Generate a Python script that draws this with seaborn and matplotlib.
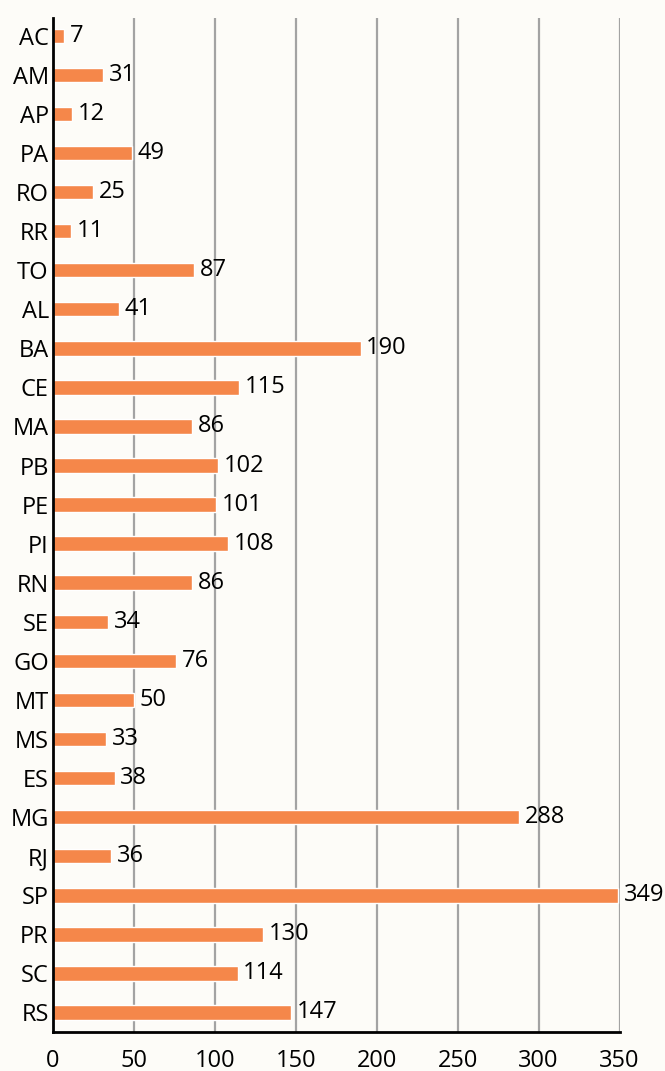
import pandas as pd
import matplotlib.pyplot as plt
import seaborn as sns

# data
estados = ['AC', 'AM', 'AP', 'PA', 'RO', 'RR', 'TO', 'AL', 'BA', 'CE', 'MA', 'PB', 'PE',
           'PI', 'RN', 'SE', 'GO', 'MT', 'MS', 'ES', 'MG', 'RJ', 'SP', 'PR', 'SC', 'RS']
valores = [7, 31, 12, 49, 25, 11, 87, 41, 190, 115, 86, 102, 101,
           108, 86, 34, 76, 50, 33, 38, 288, 36, 349, 130, 114, 147]
x_ticks = [0, 50, 100, 150, 200, 250, 300, 350]

df = pd.DataFrame({'estado': estados, 'valor': valores})

sns.set_theme(style='white')
plt.rcParams['font.family'] = ['Open Sans', 'DejaVu Sans']

fig = plt.figure(figsize=(6.65, 10.71), dpi=100, facecolor='#FDFCF8')
ax = fig.add_axes([0.0797, 0.0364, 0.852, 0.947])
ax.set_facecolor('none')

sns.barplot(data=df, x='valor', y='estado', color='#F5874A', saturation=1,
            width=0.37, orient='h', ax=ax, zorder=3)

for c in ax.containers:
    for txt in ax.bar_label(c, padding=4, fontsize=17, color='black'):
        txt.set_y(txt.get_position()[1])
        txt.set_va('center')

ax.set_xlim(0, 350)
ax.set_ylim(25.5, -0.46)
ax.set_xticks(x_ticks)
for t in x_ticks[1:]:
    ax.axvline(t, color='#A3A3A3', lw=1.6, zorder=1)

ax.set_xlabel('')
ax.set_ylabel('')
ax.tick_params(axis='both', length=0, labelsize=17, colors='black')
ax.tick_params(axis='x', pad=12)
ax.tick_params(axis='y', pad=3)

for s in ['top', 'right']:
    ax.spines[s].set_visible(False)
for s in ['left', 'bottom']:
    ax.spines[s].set_color('black')
    ax.spines[s].set_linewidth(2)
    ax.spines[s].set_zorder(4)

fig.savefig('out.png', dpi=100, facecolor=fig.get_facecolor())
